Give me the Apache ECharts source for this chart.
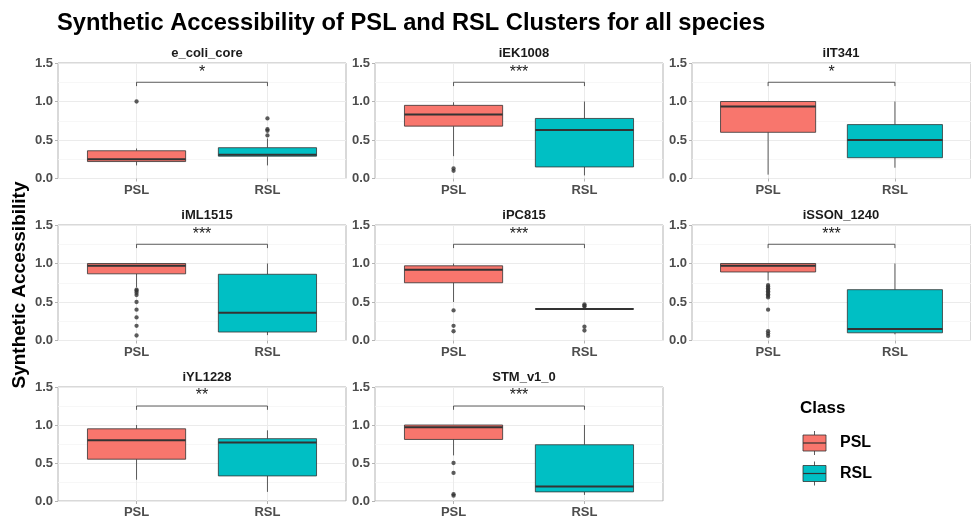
<!DOCTYPE html>
<html>
<head>
<meta charset="utf-8">
<script src="https://cdn.jsdelivr.net/npm/echarts@6/dist/echarts.min.js"></script>
<style>
  html, body { margin: 0; padding: 0; background: #ffffff; }
  #chart { width: 971px; height: 519px; }
</style>
</head>
<body>
<div id="chart"></div>
<script>
// Facet names, in reading order
const panelNames = ['e_coli_core', 'iEK1008', 'iIT341', 'iML1515', 'iPC815', 'iSSON_1240', 'iYL1228', 'STM_v1_0'];
const classes = ['PSL', 'RSL'];
const classColors = ['#F8766D', '#00BFC4'];

// Box summaries: [lower whisker, Q1, median, Q3, upper whisker]
const pslStats = [
  [0.17, 0.22, 0.25, 0.36, 0.39],
  [0.29, 0.68, 0.83, 0.95, 0.99],
  [0.05, 0.60, 0.935, 1.00, 1.00],
  [0.69, 0.866, 0.97, 1.00, 1.00],
  [0.50, 0.75, 0.92, 0.97, 1.00],
  [0.78, 0.89, 0.97, 1.00, 1.00],
  [0.28, 0.55, 0.80, 0.95, 1.00],
  [0.60, 0.81, 0.97, 1.00, 1.00]
];
const rslStats = [
  [0.17, 0.29, 0.31, 0.40, 0.52],
  [0.04, 0.15, 0.63, 0.78, 1.00],
  [0.14, 0.27, 0.50, 0.70, 1.00],
  [0.07, 0.11, 0.36, 0.86, 1.00],
  [0.41, 0.41, 0.41, 0.41, 0.41],
  [0.08, 0.10, 0.15, 0.66, 1.00],
  [0.12, 0.33, 0.77, 0.82, 0.93],
  [0.08, 0.12, 0.19, 0.74, 1.00]
];

// Outlying points per facet
const pslOutliers = [
  [1.00],
  [0.13, 0.10],
  [],
  [0.66, 0.645, 0.62, 0.59, 0.50, 0.40, 0.30, 0.19, 0.065],
  [0.39, 0.19, 0.12],
  [0.72, 0.70, 0.68, 0.66, 0.64, 0.62, 0.60, 0.58, 0.56, 0.40, 0.12, 0.09, 0.06],
  [],
  [0.50, 0.37, 0.09, 0.07]
];
const rslOutliers = [
  [0.78, 0.64, 0.62, 0.56],
  [],
  [],
  [],
  [0.47, 0.45, 0.44, 0.18, 0.13],
  [],
  [],
  []
];

// Significance of the PSL vs RSL comparison
const sigLabels = ['*', '***', '*', '***', '***', '***', '**', '***'];
const bracketY = 1.25;

const yTicks = [0, 0.5, 1.0, 1.5];

// Facet layout (3 x 3 wrap, last cell holds the legend)
const colLeft = [58, 375, 692];
const rowTop = [63, 225, 387];
const panelW = 288;
const panelH = 115.5;

const FONT = '"Liberation Sans", Arial, Helvetica, sans-serif';
const AXIS_TEXT = '#4d4d4d';
const GRID_MAJOR = '#ebebeb';
const GRID_MINOR = '#f5f5f5';
const BORDER = '#b3b3b3';
const OUTLINE = '#333333';

function renderBox(params, api) {
  const x = api.value(0);
  const lo = api.value(1), q1 = api.value(2), md = api.value(3), q3 = api.value(4), hi = api.value(5);
  const w = api.size([0.75, 0])[0];
  const pLo = api.coord([x, lo]);
  const pQ1 = api.coord([x, q1]);
  const pMd = api.coord([x, md]);
  const pQ3 = api.coord([x, q3]);
  const pHi = api.coord([x, hi]);
  const cx = pMd[0];
  const color = classColors[x - 1];
  return {
    type: 'group',
    children: [
      { type: 'line', shape: { x1: cx, y1: pQ1[1], x2: cx, y2: pLo[1] }, style: { stroke: OUTLINE, lineWidth: 0.8 } },
      { type: 'line', shape: { x1: cx, y1: pQ3[1], x2: cx, y2: pHi[1] }, style: { stroke: OUTLINE, lineWidth: 0.8 } },
      { type: 'rect', shape: { x: cx - w / 2, y: pQ3[1], width: w, height: pQ1[1] - pQ3[1] },
        style: { fill: color, stroke: OUTLINE, lineWidth: 0.8 } },
      { type: 'line', shape: { x1: cx - w / 2, y1: pMd[1], x2: cx + w / 2, y2: pMd[1] }, style: { stroke: OUTLINE, lineWidth: 2 } }
    ]
  };
}

function renderBracket(params, api) {
  const x1 = api.value(0), x2 = api.value(1), y = api.value(2);
  const a = api.coord([x1, y]);
  const b = api.coord([x2, y]);
  const drop = api.size([0, 0.05])[1];
  const label = sigLabels[api.value(3)];
  return {
    type: 'group',
    children: [
      { type: 'polyline', shape: { points: [[a[0], a[1] + drop], a, b, [b[0], b[1] + drop]] },
        style: { stroke: OUTLINE, lineWidth: 0.8, fill: null } },
      { type: 'text', x: (a[0] + b[0]) / 2, y: a[1] - 2,
        style: { text: label, fill: '#1a1a1a', font: '16px ' + FONT, align: 'center', verticalAlign: 'bottom' } }
    ]
  };
}

const grids = [], xAxes = [], yAxes = [], series = [], titles = [];

titles.push({
  text: 'Synthetic Accessibility of PSL and RSL Clusters for all species',
  left: 52, top: 6,
  textStyle: { fontFamily: FONT, fontWeight: 'bold', fontSize: 23.7, color: '#000000' }
});

panelNames.forEach((name, i) => {
  const col = i % 3, row = Math.floor(i / 3);
  grids.push({
    left: colLeft[col], top: rowTop[row], width: panelW, height: panelH,
    show: true, borderColor: BORDER, borderWidth: 1, backgroundColor: '#ffffff', containLabel: false
  });
  xAxes.push({
    type: 'value', gridIndex: i, min: 0.4, max: 2.6,
    axisLine: { show: false },
    axisTick: { show: true, customValues: [1, 2], length: 3, lineStyle: { color: BORDER } },
    axisLabel: {
      customValues: [1, 2], margin: 5,
      formatter: v => classes[Math.round(v) - 1] || '',
      fontFamily: FONT, fontWeight: 'bold', fontSize: 13, color: AXIS_TEXT
    },
    splitLine: { show: true, lineStyle: { color: GRID_MAJOR, width: 1 } }
  });
  yAxes.push({
    type: 'value', gridIndex: i, min: yTicks[0], max: yTicks[yTicks.length - 1], interval: 0.5,
    axisLine: { show: false },
    axisTick: { show: true, length: 3, lineStyle: { color: BORDER } },
    axisLabel: {
      margin: 5, formatter: v => v.toFixed(1),
      fontFamily: FONT, fontWeight: 'bold', fontSize: 13, color: AXIS_TEXT
    },
    splitLine: { show: true, lineStyle: { color: GRID_MAJOR, width: 1 } },
    minorTick: { show: false, splitNumber: 2 },
    minorSplitLine: { show: true, lineStyle: { color: GRID_MINOR, width: 0.8 } }
  });

  titles.push({
    text: name,
    left: colLeft[col] + panelW / 2, top: rowTop[row] - 21, textAlign: 'center',
    textStyle: { fontFamily: FONT, fontWeight: 'bold', fontSize: 13, color: '#1a1a1a' }
  });

  series.push({
    type: 'custom', xAxisIndex: i, yAxisIndex: i, renderItem: renderBox, silent: true, z: 3,
    data: [[1].concat(pslStats[i]), [2].concat(rslStats[i])]
  });
  series.push({
    type: 'scatter', xAxisIndex: i, yAxisIndex: i, silent: true, z: 4,
    symbol: 'circle', symbolSize: 4.3,
    itemStyle: { color: OUTLINE },
    data: pslOutliers[i].map(v => [1, v]).concat(rslOutliers[i].map(v => [2, v]))
  });
  series.push({
    type: 'custom', xAxisIndex: i, yAxisIndex: i, renderItem: renderBracket, silent: true, z: 4,
    data: [[1, 2, bracketY, i]]
  });
});

// Legend glyphs for the fill scale
const legendChildren = [
  { type: 'text', left: 800, top: 400, style: { text: 'Class', font: 'bold 17px ' + FONT, fill: '#000000' } }
];
classes.forEach((c, k) => {
  const yc = 443 + k * 30.5;
  legendChildren.push(
    { type: 'line', shape: { x1: 814.5, y1: yc - 12, x2: 814.5, y2: yc + 12 }, style: { stroke: '#333333', lineWidth: 0.8 } },
    { type: 'rect', shape: { x: 803, y: yc - 8, width: 23, height: 16 }, style: { fill: classColors[k], stroke: '#333333', lineWidth: 0.8 } },
    { type: 'line', shape: { x1: 803, y1: yc, x2: 826, y2: yc }, style: { stroke: '#333333', lineWidth: 1.2 } },
    { type: 'text', x: 840, y: yc, style: { text: c, font: 'bold 16px ' + FONT, fill: '#000000', verticalAlign: 'middle' } }
  );
});

const chart = echarts.init(document.getElementById('chart'), null, { renderer: 'canvas' });
chart.setOption({
  backgroundColor: '#ffffff',
  animation: false,
  title: titles,
  grid: grids,
  xAxis: xAxes,
  yAxis: yAxes,
  series: series,
  graphic: [
    {
      type: 'text', x: 20, y: 285, rotation: Math.PI / 2, originX: 0, originY: 0,
      style: { text: 'Synthetic Accessibility', font: 'bold 19px ' + FONT, fill: '#000000', align: 'center', verticalAlign: 'middle' }
    },
    { type: 'group', children: legendChildren }
  ]
});
</script>
</body>
</html>
